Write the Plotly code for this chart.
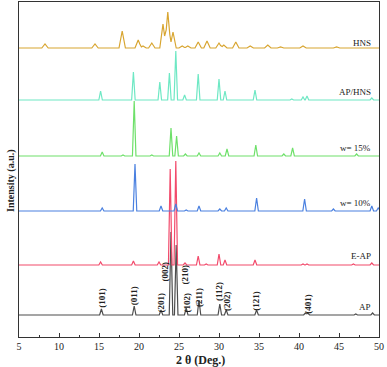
import plotly.graph_objects as go

# ---------------- data ----------------
series_names = ["AP", "E-AP", "w= 10%", "w= 15%", "AP/HNS", "HNS"]
series_colors = ["#4d4d4d", "#f24a6b", "#4a80e0", "#6ee06a", "#6ee8c4", "#d8a530"]
offsets = [22, 72, 126, 181, 237, 289]

ap_pos = [15.3, 19.4, 22.75, 24.0, 24.65, 25.9, 27.5, 30.1, 30.9, 34.7, 40.8, 41.1, 47.1, 49.2]
ap_h = [6, 9, 5, 83, 70, 7, 15, 11, 5, 5, 2, 2, 1, 2]

eap_pos = [15.2, 19.3, 22.5, 23.9, 24.6, 25.75, 27.4, 28.4, 30.0, 30.75, 34.5, 40.5, 41.0, 46.8, 49.1]
eap_h = [3, 4, 3, 96, 104, 2, 9, 1, 11, 5, 5, 1, 1, 1, 2]

w10_pos = [15.4, 19.5, 22.75, 24.6, 25.9, 27.5, 30.1, 30.9, 34.7, 40.7, 44.3, 49.1, 49.9]
w10_h = [3, 47, 5, 7, 1, 5, 2, 3, 13, 12, 2, 5, 3]

w15_pos = [15.4, 18.0, 19.4, 21.6, 24.0, 24.7, 25.8, 27.5, 30.1, 31.0, 34.6, 38.1, 39.2, 47.2]
w15_h = [4, 1, 55, 1, 28, 20, 2, 3, 3, 7, 11, 2, 8, 2]

aphns_pos = [15.2, 19.3, 22.6, 23.8, 24.6, 25.7, 27.4, 30.0, 30.75, 34.5, 39.1, 40.5, 41.0, 49.1]
aphns_h = [9, 28, 18, 27, 49, 5, 26, 21, 9, 10, 1, 3, 4, 2]

hns_pos = [8.25, 14.5, 17.9, 19.9, 20.5, 21.6, 23.0, 23.6, 24.25, 25.4, 26.1, 27.4, 28.5, 30.0,
           30.6, 32.1, 33.9, 36.1, 37.7, 40.5, 44.7]
hns_h = [4, 4, 17, 8, 2, 5, 24, 36, 16, 2, 2, 6, 7, 5, 3, 6, 2, 3, 1, 2, 1]

peak_widths = [0.22, 0.22, 0.22, 0.22, 0.22, 0.4]   # half base width (deg) of each series' peaks

miller_labels = ["(101)", "(011)", "(201)", "(002)", "(210)", "(102)", "(211)", "(112)", "(202)", "(121)", "(401)"]
miller_x = [15.35, 19.4, 22.7, 23.2, 25.8, 26.05, 27.5, 30.0, 31.0, 34.6, 41.1]
miller_y = [39, 41, 34, 65, 63, 35, 39, 45, 36, 36, 33]

label_y = [30, 81, 134, 189, 245, 294]
x_min, x_max = 5, 50
x_ticks = [5, 10, 15, 20, 25, 30, 35, 40, 45, 50]

all_pos = [ap_pos, eap_pos, w10_pos, w15_pos, aphns_pos, hns_pos]
all_h = [ap_h, eap_h, w10_h, w15_h, aphns_h, hns_h]


def profile(pos, hts, hw, base):
    # piecewise-linear sum of triangular peaks, evaluated at its breakpoints
    xs = {x_min, x_max}
    for p in pos:
        xs.update([p - hw, p, p + hw])
    xs = sorted(x for x in xs if x_min <= x <= x_max)
    ys = []
    for x in xs:
        v = 0.0
        for p, h in zip(pos, hts):
            d = abs(x - p)
            if d < hw:
                v += h * (1 - d / hw)
        ys.append(base + v)
    return xs, ys


fig = go.Figure()
for name, col, off, pos, hts, hw in zip(series_names, series_colors, offsets, all_pos, all_h, peak_widths):
    xs, ys = profile(pos, hts, hw, off)
    fig.add_trace(go.Scatter(x=xs, y=ys, mode="lines", name=name,
                             line=dict(color=col, width=1.2), showlegend=False))

serif = "Liberation Serif"
for name, y in zip(series_names, label_y):
    fig.add_annotation(x=49.25, y=y, text=name, showarrow=False, xanchor="right",
                       yanchor="middle", font=dict(family=serif, size=9, color="#222"))

for t, x, y in zip(miller_labels, miller_x, miller_y):
    fig.add_annotation(x=x, y=y, text="<b>" + t + "</b>", showarrow=False, textangle=-90,
                       xanchor="center", yanchor="middle",
                       font=dict(family=serif, size=9, color="#222"))

# axis titles
fig.add_annotation(xref="paper", yref="paper", x=0.505, y=-0.068, text="<b>2 θ (Deg.)</b>",
                   showarrow=False, xanchor="center", yanchor="middle",
                   font=dict(family=serif, size=12, color="#222"))
fig.add_annotation(xref="paper", yref="paper", x=-0.022, y=0.466, text="<b>Intensity (a.u.)</b>",
                   showarrow=False, textangle=-90, xanchor="center", yanchor="middle",
                   font=dict(family=serif, size=10, color="#222"))

fig.update_layout(
    width=387, height=367,
    margin=dict(l=19, r=8, t=2, b=30),
    paper_bgcolor="white", plot_bgcolor="white",
    font=dict(family=serif, size=10, color="#222"),
)
fig.update_xaxes(range=[x_min, x_max], tickvals=x_ticks, ticks="inside", ticklen=4,
                 tickcolor="#333", showline=True, linecolor="#333", linewidth=1, mirror=True,
                 showgrid=False, zeroline=False, automargin=False,
                 minor=dict(dtick=2.5, ticks="inside", ticklen=2, tickcolor="#333"),
                 tickfont=dict(family=serif, size=10, color="#222"))
fig.update_yaxes(range=[0, 335], showticklabels=False, ticks="", showline=True, linecolor="#333",
                 linewidth=1, mirror=True, showgrid=False, zeroline=False, automargin=False)

fig.write_html("out.html", config={"displayModeBar": False},
               post_script="document.body.style.margin='0';")
